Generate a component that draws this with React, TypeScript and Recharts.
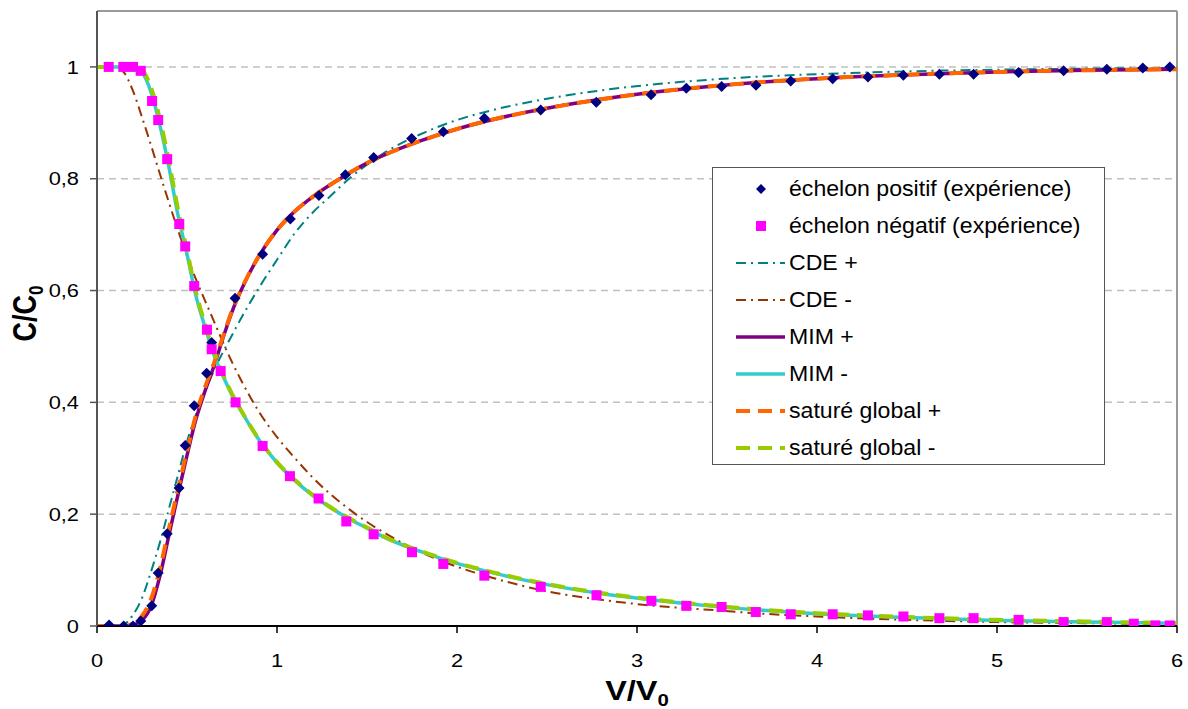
import React from 'react';
import {
  ComposedChart,
  Line,
  Scatter,
  XAxis,
  YAxis,
  CartesianGrid,
  ReferenceLine,
  Legend
} from 'recharts';

const xTicks = [0, 1, 2, 3, 4, 5, 6];
const yTicks = [0, 0.2, 0.4, 0.6, 0.8, 1];

// échelon positif (expérience)
const posV = [0.067, 0.148, 0.2, 0.243, 0.304, 0.34, 0.39, 0.456, 0.49, 0.54, 0.609, 0.637, 0.767, 0.92, 1.074, 1.233, 1.38, 1.537, 1.748, 1.924, 2.152, 2.465, 2.774, 3.078, 3.274, 3.47, 3.661, 3.854, 4.087, 4.283, 4.48, 4.68, 4.87, 5.12, 5.37, 5.61, 5.81, 5.96];
const posC = [0.002, 0, 0, 0.009, 0.036, 0.095, 0.165, 0.247, 0.323, 0.394, 0.452, 0.507, 0.586, 0.665, 0.728, 0.77, 0.807, 0.838, 0.872, 0.884, 0.908, 0.923, 0.937, 0.95, 0.962, 0.965, 0.967, 0.975, 0.979, 0.982, 0.985, 0.987, 0.987, 0.99, 0.993, 0.996, 0.998, 1.0];

// échelon négatif (expérience)
const negV = [0.065, 0.146, 0.2, 0.243, 0.306, 0.34, 0.39, 0.457, 0.49, 0.54, 0.611, 0.637, 0.687, 0.77, 0.92, 1.072, 1.231, 1.385, 1.537, 1.75, 1.924, 2.152, 2.465, 2.775, 3.08, 3.274, 3.47, 3.66, 3.854, 4.087, 4.283, 4.48, 4.68, 4.87, 5.12, 5.37, 5.61, 5.76, 5.88, 5.96];
const negC = [1, 1, 1, 0.993, 0.939, 0.905, 0.835, 0.719, 0.679, 0.608, 0.53, 0.495, 0.456, 0.4, 0.322, 0.268, 0.228, 0.187, 0.164, 0.132, 0.111, 0.09, 0.07, 0.055, 0.045, 0.036, 0.034, 0.025, 0.021, 0.021, 0.019, 0.017, 0.014, 0.014, 0.011, 0.007, 0.007, 0.004, 0.001, 0.001];

// model curves, all sampled on the same V/V0 grid
const curveV = [0, 0.1, 0.15, 0.2, 0.25, 0.3, 0.35, 0.4, 0.45, 0.5, 0.55, 0.6, 0.65, 0.7, 0.75, 0.8, 0.9, 1.0, 1.1, 1.2, 1.3, 1.4, 1.5, 1.6, 1.8, 2.0, 2.2, 2.5, 2.8, 3.1, 3.4, 3.7, 4.0, 4.5, 5.0, 5.5, 6.0];
const cdePlus = [0, 0, 0.003, 0.02, 0.05, 0.097, 0.15, 0.21, 0.27, 0.33, 0.378, 0.42, 0.457, 0.49, 0.52, 0.55, 0.605, 0.655, 0.703, 0.74, 0.77, 0.8, 0.825, 0.847, 0.88, 0.905, 0.923, 0.943, 0.958, 0.969, 0.977, 0.983, 0.987, 0.992, 0.995, 0.997, 0.998];
const cdeMinus = [1, 1, 0.99, 0.957, 0.91, 0.86, 0.808, 0.757, 0.708, 0.662, 0.62, 0.582, 0.545, 0.507, 0.472, 0.44, 0.383, 0.338, 0.3, 0.265, 0.235, 0.209, 0.186, 0.166, 0.132, 0.106, 0.086, 0.062, 0.047, 0.036, 0.029, 0.022, 0.017, 0.011, 0.007, 0.005, 0.003];
const mimPlus = [0, 0, 0, 0.002, 0.01, 0.035, 0.09, 0.163, 0.235, 0.305, 0.37, 0.42, 0.465, 0.515, 0.562, 0.6, 0.662, 0.708, 0.742, 0.768, 0.79, 0.81, 0.828, 0.843, 0.868, 0.889, 0.906, 0.926, 0.942, 0.955, 0.965, 0.973, 0.979, 0.986, 0.991, 0.994, 0.996];
const mimMinus = [1, 1, 1, 0.998, 0.99, 0.955, 0.895, 0.82, 0.735, 0.665, 0.59, 0.535, 0.485, 0.447, 0.413, 0.385, 0.333, 0.292, 0.26, 0.233, 0.211, 0.192, 0.175, 0.158, 0.133, 0.112, 0.095, 0.074, 0.058, 0.046, 0.036, 0.028, 0.022, 0.015, 0.01, 0.007, 0.005];
const satPlus = [0, 0, 0, 0.004, 0.018, 0.048, 0.103, 0.175, 0.245, 0.313, 0.378, 0.427, 0.47, 0.518, 0.564, 0.601, 0.662, 0.708, 0.742, 0.768, 0.79, 0.81, 0.828, 0.843, 0.868, 0.889, 0.906, 0.926, 0.942, 0.955, 0.965, 0.973, 0.979, 0.986, 0.991, 0.994, 0.996];
const satMinus = [1, 1, 1, 0.999, 0.994, 0.963, 0.906, 0.83, 0.745, 0.672, 0.597, 0.54, 0.49, 0.45, 0.415, 0.386, 0.334, 0.293, 0.261, 0.234, 0.212, 0.193, 0.176, 0.159, 0.134, 0.113, 0.096, 0.075, 0.059, 0.047, 0.037, 0.029, 0.023, 0.016, 0.011, 0.008, 0.005];

const toPoints = (xs: number[], ys: number[]) => xs.map((v, i) => ({ v, c: ys[i] }));

const FONT = '"Liberation Sans", Arial, sans-serif';

const lineSeries = [
  { name: 'CDE +', values: cdePlus, color: '#008080', width: 2, dash: '10 5 2 5' },
  { name: 'CDE -', values: cdeMinus, color: '#993300', width: 2, dash: '10 5 2 5' },
  { name: 'MIM +', values: mimPlus, color: '#800080', width: 3.5, dash: undefined },
  { name: 'MIM -', values: mimMinus, color: '#33CCCC', width: 3.5, dash: undefined },
  { name: 'saturé global +', values: satPlus, color: '#FF6600', width: 4, dash: '14 8' },
  { name: 'saturé global -', values: satMinus, color: '#99CC00', width: 4, dash: '14 8' }
];

const Diamond = (props: any) => {
  const { cx, cy } = props;
  const r = 5.5;
  return <polygon points={`${cx},${cy - r} ${cx + r},${cy} ${cx},${cy + r} ${cx - r},${cy}`} fill="#000080" />;
};

const Square = (props: any) => {
  const { cx, cy } = props;
  return <rect x={cx - 5} y={cy - 5} width={10} height={10} fill="#FF00FF" />;
};

const YTick = (props: any) => {
  const { x, y, payload } = props;
  const label = String(payload.value).replace('.', ',');
  return (
    <text transform={`translate(${x},${y}) scale(1.18,1)`} textAnchor="end" dy="0.36em" fontSize={18.5} fontFamily={FONT} fill="#000">
      {label}
    </text>
  );
};

const XTick = (props: any) => {
  const { x, y, payload } = props;
  return (
    <text transform={`translate(${x},${y + 34}) scale(1.18,1)`} textAnchor="middle" fontSize={18.5} fontFamily={FONT} fill="#000">
      {payload.value}
    </text>
  );
};

const XTitle = (props: any) => {
  const { x, y, width } = props.viewBox;
  return (
    <text transform={`translate(${x + width / 2},${y + 74}) scale(1.2,1)`} textAnchor="middle" fontSize={27} fontWeight="bold" fontFamily={FONT} fill="#000">
      V/V<tspan fontSize={17} dy={6}>0</tspan>
    </text>
  );
};

const YTitle = (props: any) => {
  const { y, height } = props.viewBox;
  return (
    <text transform={`translate(36,${y + height / 2 - 5}) scale(1.2,1) rotate(-90)`} textAnchor="middle" fontSize={27} fontWeight="bold" fontFamily={FONT} fill="#000">
      C/C<tspan fontSize={17} dy={6}>0</tspan>
    </text>
  );
};

const legendRows = [
  { label: 'échelon positif (expérience)', kind: 'diamond' },
  { label: 'échelon négatif (expérience)', kind: 'square' },
  ...lineSeries.map((s) => ({ label: s.name, kind: 'line', color: s.color, width: s.width, dash: s.dash }))
];

const LegendBox = () => (
  <div
    style={{
      width: 393,
      height: 298,
      boxSizing: 'border-box',
      border: '1.5px solid #555',
      background: '#fff',
      paddingTop: 2,
      fontFamily: FONT
    }}
  >
    {legendRows.map((row: any) => (
      <div key={row.label} style={{ height: 37, display: 'flex', alignItems: 'center' }}>
        <svg width={53} height={14} style={{ marginLeft: 23, flex: 'none' }}>
          {row.kind === 'diamond' && <polygon points="25,2 30,7 25,12 20,7" fill="#000080" />}
          {row.kind === 'square' && <rect x={20} y={2} width={10} height={10} fill="#FF00FF" />}
          {row.kind === 'line' && (
            <line x1={0} y1={7} x2={49} y2={7} stroke={row.color} strokeWidth={row.width} strokeDasharray={row.dash} />
          )}
        </svg>
        <span style={{ fontSize: 22, color: '#000', whiteSpace: 'nowrap', display: 'inline-block', transform: 'scaleX(1.05)', transformOrigin: 'left center' }}>
          {row.label}
        </span>
      </div>
    ))}
  </div>
);

export default function App() {
  return (
    <div style={{ position: 'absolute', left: 0, top: 0, width: 1188, height: 709, background: '#fff' }}>
      <ComposedChart width={1188} height={709} margin={{ top: 11, right: 11, bottom: 0, left: 0 }}>
        <CartesianGrid horizontal vertical={false} stroke="#C0C0C0" strokeWidth={1.5} strokeDasharray="7 5" />
        <XAxis
          type="number"
          dataKey="v"
          domain={[0, 6]}
          ticks={xTicks}
          height={83}
          tickSize={7}
          tickMargin={0}
          axisLine={{ stroke: '#000', strokeWidth: 2 }}
          tickLine={{ stroke: '#000', strokeWidth: 1.5 }}
          tick={(p: any) => <XTick {...p} />}
          label={{ content: (p: any) => <XTitle {...p} /> }}
          allowDataOverflow
        />
        <YAxis
          type="number"
          domain={[0, 1.1]}
          ticks={yTicks}
          width={97}
          tickSize={7}
          tickMargin={11}
          axisLine={{ stroke: '#555', strokeWidth: 2 }}
          tickLine={{ stroke: '#555', strokeWidth: 1.5 }}
          tick={(p: any) => <YTick {...p} />}
          label={{ content: (p: any) => <YTitle {...p} /> }}
          allowDataOverflow
        />
        <ReferenceLine y={1.1} stroke="#999" strokeWidth={2} />
        <ReferenceLine x={6} stroke="#999" strokeWidth={2} />
        {lineSeries.map((s) => (
          <Line
            key={s.name}
            name={s.name}
            data={toPoints(curveV, s.values)}
            dataKey="c"
            type="monotone"
            stroke={s.color}
            strokeWidth={s.width}
            strokeDasharray={s.dash}
            dot={false}
            activeDot={false}
            isAnimationActive={false}
          />
        ))}
        <Scatter name="échelon positif (expérience)" data={toPoints(posV, posC)} dataKey="c" shape={Diamond} isAnimationActive={false} />
        <Scatter name="échelon négatif (expérience)" data={toPoints(negV, negC)} dataKey="c" shape={Square} isAnimationActive={false} />
        <Legend
          layout="vertical"
          align="center"
          verticalAlign="middle"
          wrapperStyle={{ left: 712, top: 167, width: 393, height: 298 }}
          content={() => <LegendBox />}
        />
      </ComposedChart>
    </div>
  );
}
